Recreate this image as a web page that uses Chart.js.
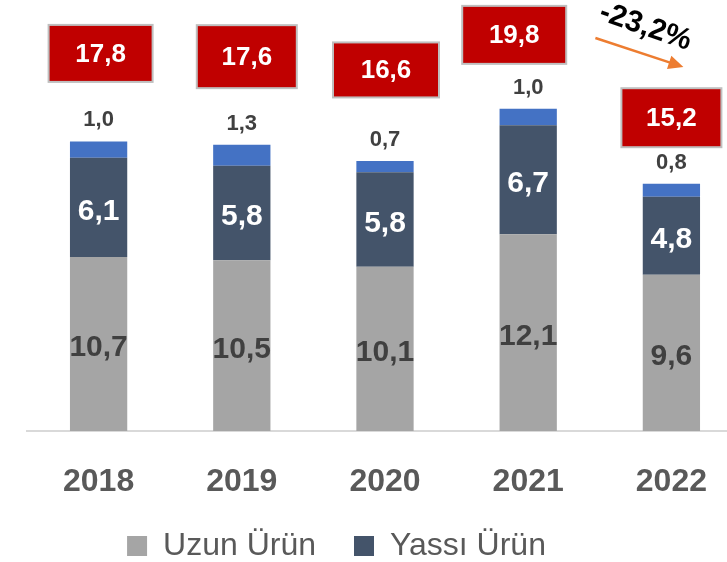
<!DOCTYPE html>
<html>
<head>
<meta charset="utf-8">
<script src="https://cdn.jsdelivr.net/npm/chart.js@4.4.0/dist/chart.umd.min.js"></script>
<style>
  html, body { margin: 0; padding: 0; background: #fff; }
  #wrap { width: 727px; height: 562px; overflow: hidden; }
</style>
</head>
<body>
<div id="wrap"><canvas id="chart" width="743" height="562"></canvas></div>
<script>
// Dados
const years = ['2018', '2019', '2020', '2021', '2022'];
const uzunUrun = [10.7, 10.5, 10.1, 12.1, 9.6];
const yassiUrun = [6.1, 5.8, 5.8, 6.7, 4.8];
const diger = [1.0, 1.3, 0.7, 1.0, 0.8];
const changeLabel = '-23,2%';

const FONT = "'Liberation Sans', Arial, sans-serif";
const fmt = v => v.toFixed(1).replace('.', ',');

// Rótulos dos segmentos
const segmentLabels = {
  id: 'segmentLabels',
  afterDatasetsDraw(chart) {
    const ctx = chart.ctx;
    ctx.save();
    ctx.textAlign = 'center';
    ctx.textBaseline = 'middle';
    chart.data.datasets.forEach((ds, di) => {
      const meta = chart.getDatasetMeta(di);
      meta.data.forEach((bar, i) => {
        const txt = fmt(ds.data[i]);
        if (di === 2) {
          ctx.font = 'bold 22px ' + FONT;
          ctx.fillStyle = '#404040';
          ctx.fillText(txt, bar.x, bar.y - 21);
        } else {
          ctx.font = 'bold 30px ' + FONT;
          ctx.fillStyle = di === 0 ? '#404040' : '#ffffff';
          ctx.fillText(txt, bar.x, (bar.y + bar.base) / 2 + 4);
        }
      });
    });
    ctx.restore();
  }
};

// Caixas vermelhas com os totais
const totalBoxes = {
  id: 'totalBoxes',
  afterDatasetsDraw(chart, args, opts) {
    const ctx = chart.ctx;
    const top = chart.getDatasetMeta(2).data;
    ctx.save();
    top.forEach((bar, i) => {
      const total = uzunUrun[i] + yassiUrun[i] + diger[i];
      const b = opts.boxes[i];
      const cx = bar.x + b.dx;
      const cy = bar.y - b.lift;
      ctx.fillStyle = '#c00000';
      ctx.fillRect(cx - b.w / 2, cy - b.h / 2, b.w, b.h);
      ctx.strokeStyle = '#bfbfbf';
      ctx.lineWidth = 2;
      ctx.strokeRect(cx - b.w / 2, cy - b.h / 2, b.w, b.h);
      ctx.fillStyle = '#ffffff';
      ctx.font = 'bold 26px ' + FONT;
      ctx.textAlign = 'center';
      ctx.textBaseline = 'middle';
      ctx.fillText(fmt(total), cx, cy + 1);
    });

    // Seta e variação
    const last = top[top.length - 1];
    const t = chart.chartArea.top;
    const x1 = last.x - 76, y1 = t + 30;
    const x2 = last.x + 12, y2 = t + 59;
    const ang = Math.atan2(y2 - y1, x2 - x1);
    ctx.strokeStyle = '#ed7d31';
    ctx.fillStyle = '#ed7d31';
    ctx.lineWidth = 2.5;
    ctx.beginPath();
    ctx.moveTo(x1, y1);
    ctx.lineTo(x2 - 10 * Math.cos(ang), y2 - 10 * Math.sin(ang));
    ctx.stroke();
    ctx.beginPath();
    ctx.moveTo(x2, y2);
    ctx.lineTo(x2 - 15 * Math.cos(ang) + 7 * Math.sin(ang), y2 - 15 * Math.sin(ang) - 7 * Math.cos(ang));
    ctx.lineTo(x2 - 15 * Math.cos(ang) - 7 * Math.sin(ang), y2 - 15 * Math.sin(ang) + 7 * Math.cos(ang));
    ctx.closePath();
    ctx.fill();

    ctx.translate(last.x - 26, t + 19);
    ctx.rotate(19 * Math.PI / 180);
    ctx.fillStyle = '#000000';
    ctx.font = 'bold 30px ' + FONT;
    ctx.textAlign = 'center';
    ctx.textBaseline = 'middle';
    ctx.fillText(changeLabel, 0, 0);
    ctx.restore();
  }
};

new Chart(document.getElementById('chart').getContext('2d'), {
  type: 'bar',
  data: {
    labels: years,
    datasets: [
      { label: 'Uzun Ürün', data: uzunUrun, backgroundColor: '#a5a5a5' },
      { label: 'Yassı Ürün', data: yassiUrun, backgroundColor: '#44546a' },
      { label: 'Diğer', data: diger, backgroundColor: '#4472c4' }
    ]
  },
  options: {
    responsive: false,
    animation: false,
    devicePixelRatio: 1,
    barPercentage: 0.4,
    categoryPercentage: 1,
    layout: { padding: { left: -70, right: 0, top: 8, bottom: -10 } },
    scales: {
      x: {
        stacked: true,
        offset: true,
        grid: { display: false },
        border: { display: true, color: '#d9d9d9', width: 2 },
        ticks: {
          color: '#595959',
          padding: 24,
          font: { family: FONT, size: 32, weight: 'bold' }
        },
        afterFit: s => { s.height = 61; }
      },
      y: {
        stacked: true,
        min: 0,
        max: 26,
        ticks: { display: false },
        grid: { display: false },
        border: { display: false },
        afterFit: s => { s.width = 97; }
      }
    },
    plugins: {
      legend: {
        position: 'bottom',
        labels: {
          filter: item => item.datasetIndex !== 2,
          boxWidth: 20,
          boxHeight: 20,
          padding: 38,
          color: '#595959',
          font: { family: FONT, size: 32, lineHeight: 0.65 }
        }
      },
      tooltip: { enabled: false },
      totalBoxes: {
        boxes: [
          { dx: 2, lift: 88, w: 104, h: 57 },
          { dx: 5, lift: 88, w: 100, h: 63 },
          { dx: 1, lift: 91, w: 106, h: 55 },
          { dx: -14, lift: 74, w: 104, h: 58 },
          { dx: 0, lift: 66, w: 100, h: 59 }
        ]
      }
    }
  },
  plugins: [segmentLabels, totalBoxes]
});
</script>
</body>
</html>
